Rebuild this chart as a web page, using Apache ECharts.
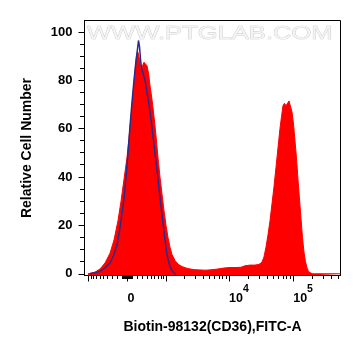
<!DOCTYPE html>
<html>
<head>
<meta charset="utf-8">
<script src="https://cdn.jsdelivr.net/npm/echarts@6/dist/echarts.min.js"></script>
<style>
html,body{margin:0;padding:0;background:#fff;}
#chart{width:361px;height:356px;}
</style>
</head>
<body>
<div id="chart"></div>
<script>
// ---- Data (x in display "decade" units of the biexponential FITC-A axis; y = relative cell number) ----
const redX = [1.804,1.913,1.991,2.069,2.146,2.209,2.271,2.318,2.364,2.411,2.442,2.474,2.505,2.536,2.559,2.575,2.590,2.606,2.629,2.653,2.676,2.699,2.723,2.746,2.769,2.801,2.832,2.863,2.894,2.925,2.956,2.988,3.019,3.050,3.081,3.112,3.159,3.206,3.268,3.330,3.393,3.470,3.548,3.642,3.735,3.829,3.922,4.016,4.109,4.187,4.249,4.327,4.405,4.467,4.514,4.545,4.576,4.607,4.639,4.670,4.701,4.732,4.763,4.794,4.818,4.841,4.864,4.888,4.911,4.935,4.958,4.981,5.005,5.028,5.051,5.075,5.098,5.121,5.145,5.168,5.192,5.215,5.238,5.262,5.293,5.737];
const redY = [0,0.7,2,4.5,8.5,14,22,30,39,48,56,65,74,84,90,92,91,88.5,85,86,87.5,88,86,83,78,72,65,57,48,40,33,26,20,15,11,8,5.5,4,3,2.4,2,1.7,1.6,1.5,1.7,2,2.4,2.6,2.6,2.7,3.3,3.6,3.6,3.9,4.8,7,11,16,22,29,36,44,52,60,65,69.5,70.5,69.5,70,71.5,71,67,62,55,48,39,31,23,15,9,5,2.5,1,0.3,0,0];

const blueX = [1.835,1.913,1.991,2.069,2.146,2.209,2.255,2.302,2.333,2.364,2.396,2.427,2.458,2.489,2.520,2.551,2.575,2.590,2.606,2.621,2.637,2.660,2.692,2.723,2.754,2.785,2.816,2.847,2.879,2.910,2.941,2.972,3.003,3.026,3.050,3.081,3.112,3.143,3.174];
const blueY = [0,0.4,1,2.5,4.5,8,12,19,25,31,40,50,61,71,80,88,93,96.5,94,89,85,83,80,75,70,64,57,50,43,35,28,21,14,9.5,6,3,1.3,0.4,0];

// ---- Axis ticks / labels (x in data units, transformed by the biexponential scale) ----
const xMajorTicks = [-1000, 0, 1000, 10000, 100000];
const xMinorTicks = [-900,-800,-700,-600,-500,-400,-300,-200,-100,
  -90,-80,-70,-60,-50,-40,-30,-20,-10,10,20,30,40,50,60,70,80,90,
  100,200,300,400,500,600,700,800,900,
  2000,3000,4000,5000,6000,7000,8000,9000,
  20000,30000,40000,50000,60000,70000,80000,90000,
  200000,300000,400000,500000];
const xLabelValues = [0, 10000, 100000];
const xLabelTexts = ['0', '10^4', '10^5'];

const yLabelValues = [0, 20, 40, 60, 80, 100];
const yMinorTicks = [5,10,15,25,30,35,45,50,55,65,70,75,85,90,95];

const xAxisName = 'Biotin-98132(CD36),FITC-A';
const yAxisName = 'Relative Cell Number';
const watermark = 'WWW.PTGLAB.COM';

// ---- Biexponential display transform ----
const W = 525;
const T0 = 2.419;
function T(v){ return T0 + Math.asinh(v / W) / Math.LN10; }

const X_MIN = 1.749, X_MAX = 5.737;
const Y_MIN = -0.7, Y_MAX = 104.76;
const FONT = '"Liberation Sans", Arial, Helvetica, sans-serif';
const MINOR_LEN_X = 3;
const MINOR_LEN_Y = 4;

const zip = (a, b) => a.map((v, i) => [v, b[i]]);

const chart = echarts.init(document.getElementById('chart'), null, {renderer: 'canvas'});

function xLabelFormatter(val){
  for (let i = 0; i < xLabelValues.length; i++){
    if (Math.abs(T(xLabelValues[i]) - val) < 1e-6){
      const s = xLabelTexts[i];
      if (s.indexOf('^') >= 0){
        const p = s.split('^');
        return '{b|' + p[0] + '}{sup|' + p[1] + '}';
      }
      return '{b|' + s + '}';
    }
  }
  return '';
}

// minor tick marks drawn through the axis scales (custom series)
function xMinorRender(params, api){
  const p = api.coord([api.value(0), api.value(1)]);
  const x = Math.round(p[0] - 0.5) + 0.5;
  const y = Math.round(p[1] - 0.5) + 0.5;
  return {type: 'line', shape: {x1: x, y1: y, x2: x, y2: y + MINOR_LEN_X + 0.5},
    style: {stroke: '#000', lineWidth: 1}};
}
function yMinorRender(params, api){
  const p = api.coord([api.value(0), api.value(1)]);
  const x = Math.round(p[0] - 0.5) + 0.5;
  const y = Math.round(p[1] - 0.5) + 0.5;
  return {type: 'line', shape: {x1: x - MINOR_LEN_Y - 0.5, y1: y, x2: x, y2: y},
    style: {stroke: '#000', lineWidth: 1}};
}

const option = {
  animation: false,
  backgroundColor: '#fff',
  grid: {left: 84.5, right: 20.5, top: 20.5, bottom: 80.5, show: true, borderColor: '#000', borderWidth: 1, backgroundColor: 'transparent'},
  xAxis: {
    type: 'value', min: X_MIN, max: X_MAX, position: 'bottom',
    axisLine: {show: true, onZero: false, lineStyle: {color: '#000', width: 1}},
    splitLine: {show: false},
    axisTick: {show: true, inside: false, length: 6, customValues: xMajorTicks.map(T), lineStyle: {color: '#000', width: 1}},
    axisLabel: {show: true, customValues: xLabelValues.map(T), align: 'left', margin: 8, formatter: xLabelFormatter,
      rich: {
        b: {fontFamily: FONT, fontSize: 12.5, fontWeight: 'bold', color: '#000', lineHeight: 22, verticalAlign: 'bottom'},
        sup: {fontFamily: FONT, fontSize: 10.5, fontWeight: 'bold', color: '#000', lineHeight: 8, verticalAlign: 'top'}
      }},
    name: xAxisName, nameLocation: 'middle', nameGap: 45,
    nameTextStyle: {fontFamily: FONT, fontSize: 14, fontWeight: 'bold', color: '#000'}
  },
  yAxis: {
    type: 'value', min: Y_MIN, max: Y_MAX, position: 'left',
    axisLine: {show: true, onZero: false, lineStyle: {color: '#000', width: 1}},
    splitLine: {show: false},
    axisTick: {show: true, length: 6, customValues: yLabelValues, lineStyle: {color: '#000', width: 1}},
    axisLabel: {show: true, customValues: yLabelValues, margin: 12, fontFamily: FONT, fontSize: 13, fontWeight: 'bold', color: '#000'},
    name: yAxisName, nameLocation: 'middle', nameGap: 50,
    nameTextStyle: {fontFamily: FONT, fontSize: 14, fontWeight: 'bold', color: '#000'}
  },
  graphic: [{
    type: 'text', x: 87, y: 25, scaleX: 1.42, z: 0, silent: true,
    style: {text: watermark, font: '18px ' + FONT, fill: '#f4f4f4', stroke: '#c4c4c4', lineWidth: 0.6, textVerticalAlign: 'top', verticalAlign: 'top'}
  }],
  series: [{
    type: 'line', data: zip(redX, redY),
    showSymbol: false, smooth: false, z: 2,
    lineStyle: {color: '#ff0000', width: 1},
    areaStyle: {color: '#ff0000', opacity: 1, origin: 'start'}
  }, {
    type: 'line', data: zip(blueX, blueY),
    showSymbol: false, smooth: false, z: 3,
    lineStyle: {color: '#2b2a8a', width: 1.5}
  }, {
    type: 'custom', data: xMinorTicks.map(v => [T(v), Y_MIN]), renderItem: xMinorRender,
    clip: false, silent: true, z: 5
  }, {
    type: 'custom', data: yMinorTicks.map(v => [X_MIN, v]), renderItem: yMinorRender,
    clip: false, silent: true, z: 5
  }]
};
chart.setOption(option);
</script>
</body>
</html>
